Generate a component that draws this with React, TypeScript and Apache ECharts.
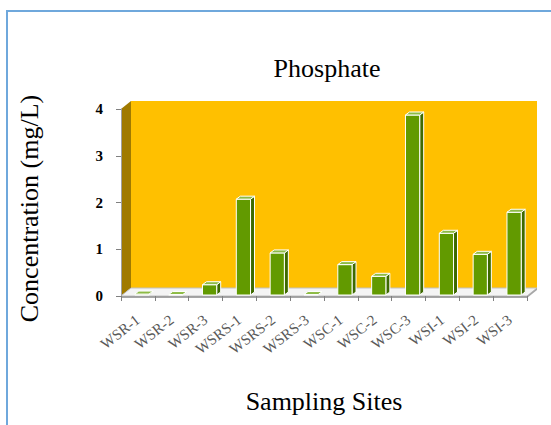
import React, { useEffect, useRef } from "react";
import * as echarts from "echarts";

const categories = ["WSR-1", "WSR-2", "WSR-3", "WSRS-1", "WSRS-2", "WSRS-3", "WSC-1", "WSC-2", "WSC-3", "WSI-1", "WSI-2", "WSI-3"];
const phosphate = [0.02, 0.01, 0.22, 2.05, 0.9, 0.01, 0.65, 0.4, 3.85, 1.32, 0.87, 1.77];
const yTicks = [0, 1, 2, 3, 4];

const L = 121, R = 527, T = 109, B = 296, DX = 10, DY = 8;
const SERIF = "'Liberation Serif', 'Times New Roman', serif";

export default function App() {
  const ref = useRef<HTMLDivElement>(null);
  useEffect(() => {
    if (!ref.current) return;
    const chart = echarts.init(ref.current, undefined, { renderer: "svg" });
    const renderItem = (params: any, api: any) => {
      const idx = api.value(0);
      const v = api.value(1);
      const p0 = api.coord([idx, 0]);
      const p1 = api.coord([idx, v]);
      const cw = api.size([1, 0])[0];
      const w = cw * 0.42;
      const ox = 4, oy = -1;
      const sx = 4, sy = -3;
      const x0 = p0[0] - w / 2 + ox;
      const x1 = x0 + w;
      const yb = p0[1] + oy;
      const yt = p1[1] + oy;
      return {
        type: "group",
        children: [
          {
            type: "polygon",
            shape: { points: [[x1, yb], [x1 + sx, yb + sy], [x1 + sx, yt + sy], [x1, yt]] },
            style: { fill: "#3E6A00", stroke: "#FFFFFF", lineWidth: 1 },
          },
          {
            type: "rect",
            shape: { x: x0, y: yt, width: w, height: Math.max(yb - yt, 0) },
            style: { fill: "#629A00", stroke: "#FFFFFF", lineWidth: 1 },
          },
          {
            type: "polygon",
            shape: { points: [[x0, yt], [x0 + sx, yt + sy], [x1 + sx, yt + sy], [x1, yt]] },
            style: { fill: "#8DBB45", stroke: "#FFFFFF", lineWidth: 1 },
          },
        ],
      };
    };
    chart.setOption({
      animation: false,
      title: {
        text: "Phosphate",
        left: 322,
        textAlign: "center",
        top: 50,
        textStyle: { fontFamily: SERIF, fontSize: 26, fontWeight: "normal", color: "#000" },
      },
      graphic: [
        { type: "rect", z: 0, shape: { x: 7, y: 11, width: 600, height: 500 }, style: { fill: "none", stroke: "#6FA8DC", lineWidth: 2 } },
        { type: "rect", z: 0, shape: { x: L + DX, y: T - DY, width: R - L, height: B - T }, style: { fill: "#FFC000" } },
        { type: "polygon", z: 0, shape: { points: [[L, T], [L + DX, T - DY], [L + DX, B - DY], [L, B]] }, style: { fill: "#A07A00" } },
        { type: "polygon", z: 0, shape: { points: [[L, B], [L + DX, B - DY], [R + DX, B - DY], [R, B]] }, style: { fill: "#F4F4F4", stroke: "#C0C0C0", lineWidth: 1 } },
        { type: "polygon", z: 0, shape: { points: [[L, B], [R, B], [R + DX, B - DY], [R + DX, B - DY + 2], [R, B + 2], [L, B + 2]] }, style: { fill: "#A6A6A6" } },
      ],
      grid: { left: L, right: 551 - R, top: T, bottom: 425 - B },
      xAxis: {
        type: "category",
        data: categories,
        name: "Sampling Sites",
        nameLocation: "middle",
        nameGap: 92,
        nameTextStyle: { fontFamily: SERIF, fontSize: 26, color: "#000" },
        axisLine: { lineStyle: { color: "#A0A0A0", width: 1 } },
        axisTick: { show: true, length: 5, lineStyle: { color: "#808080" } },
        axisLabel: { rotate: 38, fontFamily: SERIF, fontSize: 15, color: "#595959", margin: 22, interval: 0 },
        z: 3,
      },
      yAxis: {
        type: "value",
        min: 0,
        max: yTicks[yTicks.length - 1],
        interval: 1,
        name: "Concentration (mg/L)",
        nameLocation: "middle",
        nameRotate: 90,
        nameGap: 79,
        nameTextStyle: { fontFamily: SERIF, fontSize: 26, color: "#000", padding: [0, 12, 0, 0] },
        axisLine: { show: true, lineStyle: { color: "#A0A0A0", width: 1 } },
        axisTick: { show: true, length: 5, lineStyle: { color: "#808080" } },
        axisLabel: { fontFamily: SERIF, fontSize: 15, fontWeight: "bold", color: "#000", margin: 18 },
        splitLine: { show: false },
        z: 3,
      },
      series: [
        {
          type: "custom",
          name: "Phosphate",
          renderItem,
          data: phosphate.map((v, i) => [i, v]),
          encode: { x: 0, y: 1 },
          z: 5,
        },
      ],
    });
    return () => chart.dispose();
  }, []);
  return <div ref={ref} style={{ position: "absolute", left: 0, top: 0, width: 551, height: 425, background: "#fff" }} />;
}
